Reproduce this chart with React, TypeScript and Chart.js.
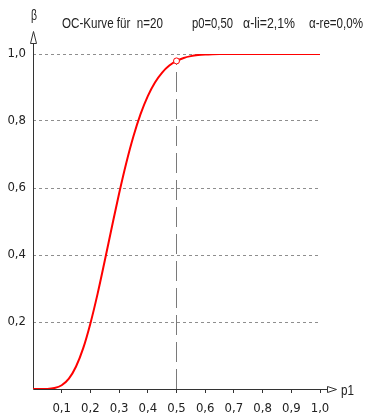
import { useEffect, useRef } from 'react';
import { Chart, registerables } from 'chart.js';

Chart.register(...registerables);

// ---- data ----
const p1Values = [0, 0.05, 0.075, 0.1, 0.125, 0.15, 0.175, 0.2, 0.225, 0.25, 0.275, 0.3, 0.325, 0.35, 0.375, 0.4, 0.425, 0.45, 0.475, 0.5, 0.525, 0.55, 0.575, 0.6, 0.625, 0.65, 0.7, 0.8, 0.9, 1.0];
const betaValues = [0, 0.0003, 0.0028, 0.0113, 0.031, 0.0673, 0.122, 0.1958, 0.284, 0.3828, 0.4845, 0.5836, 0.6748, 0.7546, 0.8213, 0.8744, 0.9151, 0.9447, 0.9654, 0.9793, 0.9882, 0.9936, 0.9967, 0.9984, 0.9993, 0.9997, 1.0, 1.0, 1.0, 1.0];
const markerP1 = [0.5];
const markerBeta = [0.9793];
const headerTexts = ['OC-Kurve für  n=20', 'p0=0,50', 'α-li=2,1%', 'α-re=0,0%'];
const yAxisTitle = 'β';
const xAxisTitle = 'p1';

const FONT_FAMILY = '"Liberation Sans Narrow", "DejaVu Sans Condensed", "Liberation Sans", sans-serif';
const HEADER_FAMILY = '"Liberation Sans", Arial, sans-serif';
const TEXT_COLOR = '#222';
const AXIS_COLOR = '#333';

const fmt = (v: number) => v.toFixed(1).replace('.', ',');

// draw text squeezed horizontally to a given width (the reference uses a narrow bitmap font)
function drawNarrow(ctx: CanvasRenderingContext2D, text: string, x: number, y: number, width: number) {
  const w = ctx.measureText(text).width;
  const s = w > 0 ? width / w : 1;
  ctx.save();
  ctx.translate(x, y);
  ctx.scale(s, 1);
  ctx.fillText(text, 0, 0);
  ctx.restore();
}

const decorPlugin = {
  id: 'decor',
  beforeDatasetsDraw(chart: any) {
    const { ctx, scales } = chart;
    const xs = scales.x;
    const ys = scales.y;
    const x0 = Math.round(xs.getPixelForValue(0)) + 0.5;
    const y0 = Math.round(ys.getPixelForValue(0)) + 0.5;
    ctx.save();
    ctx.strokeStyle = AXIS_COLOR;
    ctx.lineWidth = 1;
    const yArrowBase = 43.5;
    const yArrowTip = 31.5;
    ctx.beginPath();
    ctx.moveTo(x0, y0);
    ctx.lineTo(x0, yArrowBase);
    ctx.stroke();
    ctx.beginPath();
    ctx.moveTo(x0, yArrowTip);
    ctx.lineTo(x0 - 3, yArrowBase);
    ctx.lineTo(x0 + 3, yArrowBase);
    ctx.closePath();
    ctx.fillStyle = '#fff';
    ctx.fill();
    ctx.stroke();
    const xArrowBase = 327.5;
    const xArrowTip = 336.5;
    ctx.beginPath();
    ctx.moveTo(x0, y0);
    ctx.lineTo(xArrowBase, y0);
    ctx.stroke();
    ctx.beginPath();
    ctx.moveTo(xArrowTip, y0);
    ctx.lineTo(xArrowBase, y0 - 3);
    ctx.lineTo(xArrowBase, y0 + 3);
    ctx.closePath();
    ctx.fill();
    ctx.stroke();
    ctx.restore();
  },
  afterDraw(chart: any) {
    const { ctx } = chart;
    ctx.save();
    ctx.fillStyle = TEXT_COLOR;
    ctx.textBaseline = 'alphabetic';
    ctx.textAlign = 'left';
    ctx.font = `14px ${HEADER_FAMILY}`;
    const headerX = [62, 192, 243, 309];
    const headerW = [101, 41, 52, 54];
    headerTexts.forEach((t, i) => drawNarrow(ctx, t, headerX[i], 28, headerW[i]));
    drawNarrow(ctx, yAxisTitle, 31, 20, 6);
    drawNarrow(ctx, xAxisTitle, 341, 395, 13);
    ctx.restore();
  },
};

export default function App() {
  const canvasRef = useRef<HTMLCanvasElement | null>(null);

  useEffect(() => {
    if (!canvasRef.current) return;
    const curve = p1Values.map((x, i) => ({ x, y: betaValues[i] }));
    const marker = markerP1.map((x, i) => ({ x, y: markerBeta[i] }));
    const dropLine = [
      { x: markerP1[0], y: 0 },
      { x: markerP1[0], y: markerBeta[0] },
    ];
    const chart = new Chart(canvasRef.current, {
      type: 'line',
      data: {
        datasets: [
          {
            data: curve,
            borderColor: '#ff0000',
            borderWidth: 2,
            pointRadius: 0,
            cubicInterpolationMode: 'monotone',
            order: 1,
          },
          {
            data: dropLine,
            borderColor: '#7a7a7a',
            borderWidth: 1,
            borderDash: [20, 7],
            pointRadius: 0,
            order: 2,
          },
          {
            data: marker,
            showLine: false,
            pointRadius: 3,
            pointBackgroundColor: '#ffffff',
            pointBorderColor: '#ff0000',
            pointBorderWidth: 1,
            order: 0,
          },
        ],
      },
      options: {
        animation: false,
        responsive: true,
        maintainAspectRatio: false,
        events: [],
        layout: { padding: { top: 54, right: 48, left: 0, bottom: 0 } },
        plugins: {
          legend: { display: false },
          tooltip: { enabled: false },
          title: { display: false },
        },
        scales: {
          x: {
            type: 'linear',
            min: 0,
            max: 1,
            afterFit: (s: any) => {
              s.height = 28;
            },
            border: { display: false },
            grid: {
              drawOnChartArea: false,
              drawTicks: true,
              tickLength: 4,
              tickColor: AXIS_COLOR,
              tickWidth: 1,
            },
            ticks: {
              stepSize: 0.1,
              autoSkip: false,
              maxRotation: 0,
              padding: 8,
              color: TEXT_COLOR,
              font: { family: FONT_FAMILY, size: 13 },
              callback: (v: any) => (Math.abs(Number(v)) < 1e-9 ? null : fmt(Number(v))),
            },
          },
          y: {
            type: 'linear',
            min: 0,
            max: 1,
            afterFit: (s: any) => {
              s.width = 33;
            },
            border: { display: false, dash: [3, 3] },
            grid: {
              drawOnChartArea: true,
              drawTicks: false,
              color: '#8e8e8e',
              lineWidth: 1,
            },
            ticks: {
              stepSize: 0.2,
              padding: 7,
              color: TEXT_COLOR,
              font: { family: FONT_FAMILY, size: 13 },
              callback: (v: any) => (Math.abs(Number(v)) < 1e-9 ? null : fmt(Number(v))),
            },
          },
        },
      },
      plugins: [decorPlugin],
    } as any);
    return () => chart.destroy();
  }, []);

  return (
    <div style={{ position: 'absolute', left: 0, top: 0, width: 368, height: 417, background: '#fff' }}>
      <canvas ref={canvasRef} />
    </div>
  );
}
